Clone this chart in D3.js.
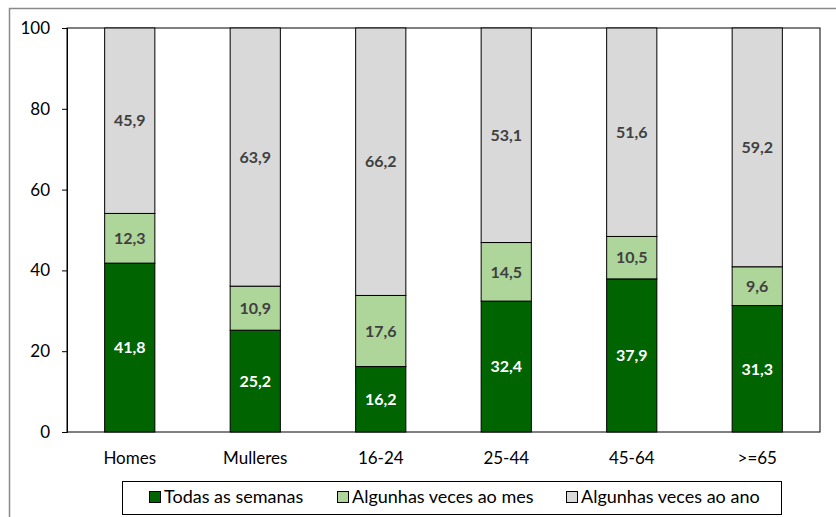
<!DOCTYPE html>
<html><head><meta charset="utf-8">
<script src="https://cdn.jsdelivr.net/npm/d3@7"></script>
<style>html,body{margin:0;padding:0;background:#fff;}svg{display:block;}</style>
</head><body>
<svg id="c" width="836" height="517"></svg>
<script>
const categories = ["Homes","Mulleres","16-24","25-44","45-64",">=65"];
const seriesNames = ["Todas as semanas","Algunhas veces ao mes","Algunhas veces ao ano"];
const todas = [41.8,25.2,16.2,32.4,37.9,31.3];
const mes = [12.3,10.9,17.6,14.5,10.5,9.6];
const ano = [45.9,63.9,66.2,53.1,51.6,59.2];
const yTicks = [0,20,40,60,80,100];

const colors = ["#006400","#aed59a","#d9d9d9"];
const labelColors = ["#ffffff","#404040","#404040"];
const font = "Lato, 'DejaVu Sans', sans-serif";

const svg = d3.select("#c");
// outer chart border
svg.append("rect").attr("x",9.5).attr("y",8.5).attr("width",900).attr("height",600)
  .attr("fill","#fff").attr("stroke","#8a8a8a").attr("stroke-width",1.5);

const L=67, T=28, R=820, B=432;
const x = d3.scaleBand().domain(categories).range([L,R]).paddingInner(0.6).paddingOuter(0.3);
const y = d3.scaleLinear().domain([0,100]).range([B,T]);

// plot frame
svg.append("rect").attr("x",L).attr("y",T).attr("width",R-L).attr("height",B-T)
  .attr("fill","none").attr("stroke","#000").attr("stroke-width",1);

const rows = categories.map((c,i)=>({cat:c, s0:todas[i], s1:mes[i], s2:ano[i]}));
const stack = d3.stack().keys(["s0","s1","s2"])(rows);

stack.forEach((layer,k)=>{
  const g = svg.append("g");
  g.selectAll("rect").data(layer).join("rect")
    .attr("x",d=>x(d.data.cat)).attr("width",x.bandwidth())
    .attr("y",d=>y(Math.min(d[1],100))).attr("height",d=>y(d[0])-y(Math.min(d[1],100)))
    .attr("fill",colors[k]).attr("stroke","#000").attr("stroke-width",1);
  g.selectAll("text").data(layer).join("text")
    .attr("x",d=>x(d.data.cat)+x.bandwidth()/2)
    .attr("y",d=>y((d[0]+Math.min(d[1],100))/2))
    .attr("dy","0.36em").attr("text-anchor","middle")
    .attr("font-family",font).attr("font-weight","bold").attr("font-size",16)
    .attr("fill",labelColors[k])
    .text(d=>d3.format(".1f")(d[1]-d[0]).replace(".",","));
});

// y axis
const ya = svg.append("g").attr("transform",`translate(${L},0)`)
  .call(d3.axisLeft(y).tickValues(yTicks).tickSize(5).tickPadding(12).tickFormat(d3.format("d")));
ya.select(".domain").attr("stroke","#000");
ya.selectAll(".tick line").attr("stroke","#000");
ya.selectAll("text").attr("font-family",font).attr("font-size",17).attr("fill","#000");

// x axis labels
const xa = svg.append("g").attr("transform",`translate(0,${B})`)
  .call(d3.axisBottom(x).tickSize(0).tickPadding(20));
xa.select(".domain").remove();
xa.selectAll("text").attr("font-family",font).attr("font-size",17).attr("fill","#000");

// legend
const lg = svg.append("g");
lg.append("rect").attr("x",122.5).attr("y",481.5).attr("width",659).attr("height",33)
  .attr("fill","#fff").attr("stroke","#000").attr("stroke-width",1);
const lx = [149,337,566];
seriesNames.forEach((n,i)=>{
  lg.append("rect").attr("x",lx[i]+0.5).attr("y",491.5).attr("width",11).attr("height",11)
    .attr("fill",colors[i]).attr("stroke","#000").attr("stroke-width",1);
  lg.append("text").attr("x",lx[i]+15).attr("y",497).attr("dy","0.36em")
    .attr("font-family",font).attr("font-size",18).attr("fill","#000").text(n);
});
</script>
</body></html>
